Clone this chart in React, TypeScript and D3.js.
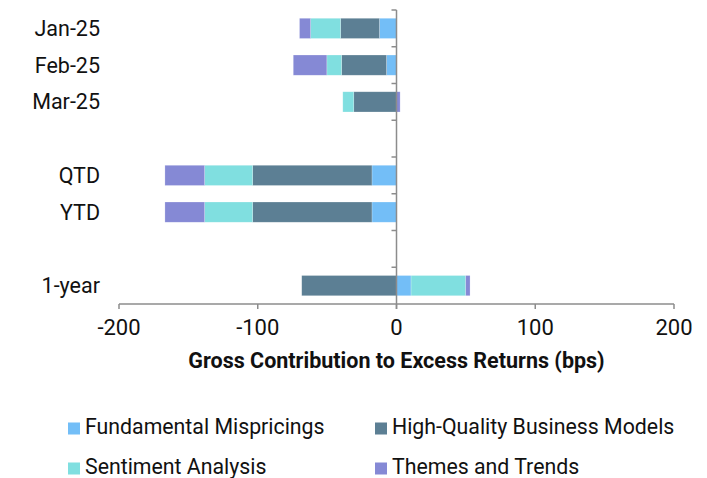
import React from "react";
import * as d3 from "d3";

const categories = ["Jan-25", "Feb-25", "Mar-25", "", "QTD", "YTD", " ", "1-year"];
const seriesNames = [
  "Fundamental Mispricings",
  "High-Quality Business Models",
  "Sentiment Analysis",
  "Themes and Trends",
];
const fundamental = [-12.3, -7.2, 0, 0, -17.7, -17.7, 0, 10.5];
const highQuality = [-28, -32.4, -30.8, 0, -86, -86, 0, -68.3];
const sentiment = [-21.6, -10.6, -7.9, 0, -34.6, -34.6, 0, 39.4];
const themes = [-8, -24.2, 2.6, 0, -28.6, -28.6, 0, 3.1];
const xTicks = [-200, -100, 0, 100, 200];
const colors = ["#73BEF7", "#5C7F94", "#80DFE0", "#8589D5"];

export default function App() {
  const W = 707, H = 478;
  const x = d3.scaleLinear().domain([-200, 200]).range([119, 674]);
  const y = d3.scaleBand().domain(categories).range([10, 304]).paddingInner(0.45).paddingOuter(0.225);
  const rows = categories.map((c, i) => ({
    cat: c,
    [seriesNames[0]]: fundamental[i],
    [seriesNames[1]]: highQuality[i],
    [seriesNames[2]]: sentiment[i],
    [seriesNames[3]]: themes[i],
  }));
  const stack = d3.stack<any>().keys(seriesNames).offset(d3.stackOffsetDiverging);
  const layers = stack(rows);
  const step = (304 - 10) / categories.length;
  const font = "Roboto, sans-serif";
  const axisColor = "#8C8C8C";
  const x0 = x(0);
  return (
    <svg width={W} height={H} style={{ position: "absolute", left: 0, top: 0, background: "#fff" }}>
      {layers.map((layer, li) =>
        layer.map((d, i) => {
          const a = x(d[0]), b = x(d[1]);
          const w = Math.abs(b - a);
          if (w < 0.01) return null;
          return (
            <rect key={li + "-" + i} x={Math.min(a, b)} y={y(categories[i])!} width={w} height={y.bandwidth()}
              fill={colors[li]} stroke="#ffffff" strokeOpacity={0.35} strokeWidth={0.6} />
          );
        })
      )}
      {/* vertical axis */}
      <line x1={x0} x2={x0} y1={10} y2={309} stroke={axisColor} strokeWidth={1.5} />
      {d3.range(categories.length).map((i) => (
        <line key={"yt" + i} x1={x0 - 5} x2={x0} y1={10 + i * step} y2={10 + i * step} stroke={axisColor} strokeWidth={1.5} />
      ))}
      {/* horizontal axis */}
      <line x1={x(-200)} x2={x(200)} y1={304} y2={304} stroke={axisColor} strokeWidth={1.5} />
      {xTicks.map((t) => (
        <g key={"xt" + t}>
          <line x1={x(t)} x2={x(t)} y1={304} y2={309} stroke={axisColor} strokeWidth={1.5} />
          <text x={x(t)} y={335} textAnchor="middle" fontFamily={font} fontSize={22} fill="#111">{t}</text>
        </g>
      ))}
      {categories.map((c, i) => (
        <text key={"yl" + i} x={100} y={y(c)! + y.bandwidth() / 2} dy="0.35em" textAnchor="end" fontFamily={font} fontSize={21.5} fill="#111">{c.trim()}</text>
      ))}
      <text x={x0} y={368} textAnchor="middle" fontFamily={font} fontSize={21.5} fontWeight="bold" fill="#111">Gross Contribution to Excess Returns (bps)</text>
      {seriesNames.map((s, i) => {
        const col = i % 2, row = Math.floor(i / 2);
        const lx = col === 0 ? 68 : 375;
        const ly = 427 + row * 40;
        return (
          <g key={"lg" + i}>
            <rect x={lx} y={ly - 4.5} width={12} height={12} fill={colors[i]} />
            <text x={lx + 17} y={ly} dy="0.35em" fontFamily={font} fontSize={21.3} fill="#111">{s}</text>
          </g>
        );
      })}
    </svg>
  );
}
